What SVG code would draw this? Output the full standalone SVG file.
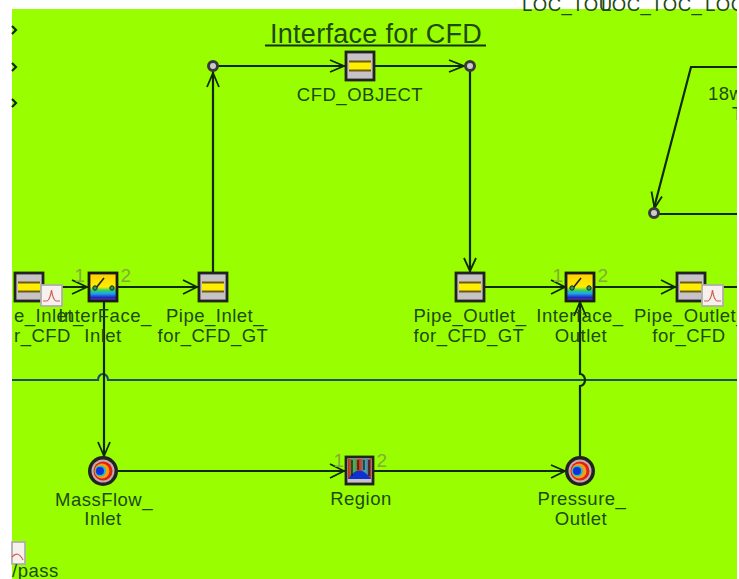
<svg xmlns="http://www.w3.org/2000/svg" width="739" height="579" viewBox="0 0 739 579">
<style>
text{font-family:"Liberation Sans",Arial,sans-serif;font-size:18.5px;letter-spacing:.5px;fill:#1d4a12;text-anchor:middle}
.s{text-anchor:start}
.n{font-size:19px;fill:#7fae3a}
.c{fill:none;stroke:#0f2a06;stroke-width:2.200}
.a{fill:none;stroke:#0f2a06;stroke-width:1.800}
.b{fill:#c6c2c6;stroke:#222;stroke-width:2.800}
.p{fill:#ccc;stroke:#3a3a3a;stroke-width:3}
</style>
<defs>
<linearGradient id="sw" x1="0" y1="0" x2="0" y2="1">
<stop offset="0" stop-color="#ffcc00"/><stop offset=".5" stop-color="#ffee00"/><stop offset=".62" stop-color="#30d060"/><stop offset=".74" stop-color="#20a0f0"/><stop offset=".88" stop-color="#2020c0"/><stop offset="1" stop-color="#8050a0"/>
</linearGradient>
<linearGradient id="rg" x1="0" y1="0" x2="1" y2="0">
<stop offset="0" stop-color="#e02010"/><stop offset=".25" stop-color="#30c060"/><stop offset=".5" stop-color="#e03010"/><stop offset=".75" stop-color="#20b0d0"/><stop offset="1" stop-color="#e02010"/>
</linearGradient>
<g id="pipe"><rect class="b" x="0" y="0" width="28" height="28"/><rect x="3" y="10" width="22" height="8" fill="#ffee00"/><path d="M3 9.500H25M3 18.500H25" stroke="#6e5a14" stroke-width="2"/></g>
<g id="chart"><rect x="0" y="0" width="21" height="21" fill="#f6f0ee" stroke="#b0b0a8" stroke-width="1.800"/><path d="M2 16H6Q9 15 10.500 5Q12 15 15 16H19" fill="none" stroke="#d06050" stroke-width="1.200"/></g>
<g id="iface"><rect x="0" y="0" width="28" height="28" fill="url(#sw)" stroke="#1a1a1a" stroke-width="2.800"/><path d="M7 15L15 5" stroke="#222" stroke-width="1.600"/><circle cx="6" cy="15" r="2.200" fill="#20a060" stroke="#222"/><circle cx="23" cy="15" r="2.200" fill="#20a060" stroke="#222"/></g>
<g id="bc"><circle cx="0" cy="0" r="15" fill="#222"/><circle cx="0" cy="0" r="11.500" fill="#c8a8b0"/><circle cx="0" cy="0" r="9.500" fill="#e02010"/><circle cx="-1" cy="0" r="7.500" fill="#ff9a10"/><circle cx="-2.500" cy="0" r="5.500" fill="#20c0c0"/><circle cx="-3" cy="0" r="4" fill="#1030e0"/></g>
</defs>
<rect x="0" y="0" width="739" height="579" fill="#fff"/>
<rect x="12" y="9" width="725" height="570" fill="#99ff00"/>
<g id="connectors">
<path class="c" d="M12 380H98A5 6 0 0 1 108 380H737" style="stroke:#1d4f66"/>
<path class="c" d="M14 287H88"/>
<path class="c" d="M118 287H198"/>
<path class="c" d="M213 272V66H345"/>
<path class="c" d="M375 66H470V272"/>
<path class="c" d="M484 287H566"/>
<path class="c" d="M595 287H676"/>
<path class="c" d="M705 287H739"/>
<path class="c" d="M104 301V456"/>
<path class="c" d="M118 471H345"/>
<path class="c" d="M373 471H566"/>
<path class="c" d="M580 457V386A5 6 0 0 0 580 374V302"/>
<path class="c" d="M739 67H691L654 208"/>
<path class="c" d="M654 214H739"/>
<path class="a" d="M72 280L87 287L72 294M183 280L197 287L183 294M207 87L213 73L219 87M330 60L344 66L330 72M449 60L464 66L449 72M464 258L470 271L476 258M551 280L565 287L551 294M661 280L675 287L661 294M98 442L104 456L110 442M330 464L344 471L330 478M551 465L565 471L551 478M574 316L580 302L586 316M651.500 191.500L654.500 208L662 196.500"/>
<path class="c" d="M12 26L16 30L12 34M12 63L16 67L12 71M12 99L16 103L12 107"/>
</g>
<g id="title"><text x="376" y="43" style="font-size:27px;letter-spacing:.3px">Interface for CFD</text><path d="M265 45.500H486" stroke="#15330a" stroke-width="2"/></g>
<g id="top-clip"><text class="s" x="522" y="11">LOC_TOU</text><text class="s" x="601" y="11">LOC_TOC_</text><text class="s" x="705" y="11">LOC</text></g>
<g id="junction-1"><circle class="p" cx="213" cy="66" r="4.500"/></g>
<g id="junction-2"><circle class="p" cx="470" cy="66" r="4.500"/></g>
<g id="junction-3"><circle class="p" cx="654" cy="213" r="4.500"/></g>
<g id="CFD_OBJECT"><use href="#pipe" x="346" y="52"/><text x="360" y="101">CFD_OBJECT</text></g>
<g id="Pipe_Inlet_for_CFD"><use href="#pipe" x="15" y="273"/><use href="#chart" x="41" y="285"/><text class="s" x="14" y="322">e_Inlet_</text><text class="s" x="14" y="342">r_CFD</text></g>
<g id="InterFace_Inlet"><use href="#iface" x="89" y="273"/><text class="n" x="80" y="282">1</text><text class="n" x="126" y="282">2</text><text x="105" y="322">InterFace_</text><text x="103" y="342">Inlet</text></g>
<g id="Pipe_Inlet_for_CFD_GT"><use href="#pipe" x="199" y="273"/><text x="215" y="322">Pipe_Inlet_</text><text x="213" y="342">for_CFD_GT</text></g>
<g id="Pipe_Outlet_for_CFD_GT"><use href="#pipe" x="456" y="273"/><text x="470" y="322">Pipe_Outlet_</text><text x="469" y="342">for_CFD_GT</text></g>
<g id="Interface_Outlet"><use href="#iface" x="566" y="273"/><text class="n" x="558" y="282">1</text><text class="n" x="603" y="282">2</text><text x="580" y="322">Interface_</text><text x="581" y="342">Outlet</text></g>
<g id="Pipe_Outlet_for_CFD"><use href="#pipe" x="677" y="273"/><use href="#chart" x="702" y="285"/><text class="s" x="634" y="322">Pipe_Outlet_</text><text x="689" y="342">for_CFD</text></g>
<g id="MassFlow_Inlet"><use href="#bc" x="103" y="471"/><text x="104" y="506">MassFlow_</text><text x="103" y="525">Inlet</text></g>
<g id="Region"><rect x="346" y="457" width="27" height="27" fill="#c6c2c6" stroke="#222" stroke-width="2.800"/><rect x="348" y="459" width="23" height="20" fill="url(#rg)"/><path d="M348 479Q359 462 371 479Z" fill="#1030d0"/><path d="M352 460V476M358 460V470M364 460V470M369 460V476" stroke="#111" stroke-width="1.200"/><text class="n" x="339" y="467">1</text><text class="n" x="382" y="467">2</text><text x="361" y="505">Region</text></g>
<g id="Pressure_Outlet"><use href="#bc" x="580" y="471"/><text x="582" y="505">Pressure_</text><text x="581" y="525">Outlet</text></g>
<g id="Bypass"><rect x="12" y="542" width="13" height="22" fill="#f6f0ee" stroke="#b0b0a8" stroke-width="1.800"/><path d="M12 557Q18 550 23 560" fill="none" stroke="#d06050" stroke-width="1.200"/><text class="s" x="12" y="577">/pass</text></g>
<g id="T-label"><text class="s" x="708" y="100">18w</text><text class="s" x="732" y="120">T</text></g>
<rect x="737" y="0" width="2" height="579" fill="#fff"/>
</svg>
